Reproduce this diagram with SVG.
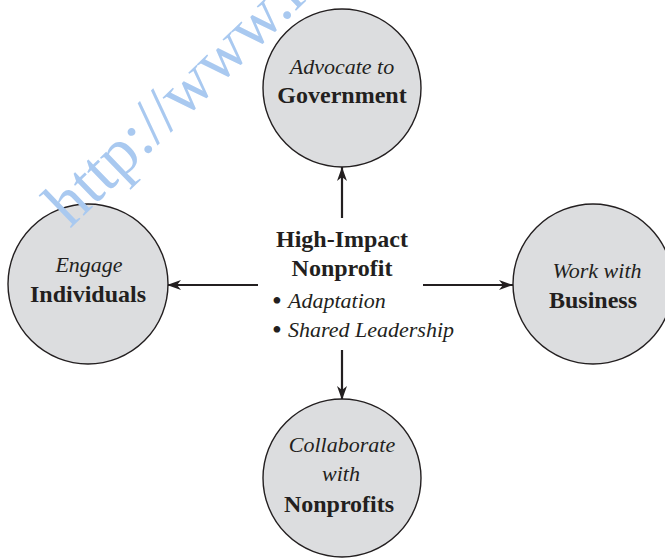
<svg xmlns="http://www.w3.org/2000/svg" width="665" height="558" viewBox="0 0 665 558">
<style>
.node circle{fill:#dcdddf;stroke:#231f20;stroke-width:1.4}
.it{font-family:"Liberation Serif","DejaVu Serif",serif;font-style:italic;font-size:22px;fill:#231f20;text-anchor:middle}
.bd{font-family:"Liberation Serif","DejaVu Serif",serif;font-weight:bold;font-size:24px;fill:#231f20;text-anchor:middle}
.bl{font-family:"Liberation Serif","DejaVu Serif",serif;font-size:28px;fill:#231f20;text-anchor:middle}
.li{font-family:"Liberation Serif","DejaVu Serif",serif;font-style:italic;font-size:22px;fill:#231f20}
.conn line{stroke:#231f20;stroke-width:2.2}
.wm{font-family:"Liberation Serif","DejaVu Serif",serif;font-size:66px;fill:#a9c9f0}
</style>
<defs>
<marker id="ah" markerUnits="userSpaceOnUse" viewBox="0 0 14 10" refX="14" refY="5" markerWidth="14" markerHeight="10" orient="auto">
<path d="M0,0 L14,5 L0,10 L4,5 z" fill="#231f20"/>
</marker>
</defs>
<rect width="665" height="558" fill="#ffffff"/>
<g id="conns" class="conn">
<line x1="342" y1="218" x2="342" y2="167" marker-end="url(#ah)"/>
<line x1="342" y1="350" x2="342" y2="400" marker-end="url(#ah)"/>
<line x1="258" y1="285" x2="167" y2="285" marker-end="url(#ah)"/>
<line x1="423" y1="285" x2="513" y2="285" marker-end="url(#ah)"/>
</g>
<g id="center">
<text class="bd" x="342" y="247">High-Impact</text>
<text class="bd" x="342" y="276">Nonprofit</text>
<text class="bl" x="277" y="310">•</text>
<text class="li" x="288" y="308">Adaptation</text>
<text class="bl" x="277" y="339">•</text>
<text class="li" x="288" y="337">Shared Leadership</text>
</g>
<g id="top" class="node">
<circle cx="342" cy="88" r="79"/>
<text class="it" x="342" y="74">Advocate to</text>
<text class="bd" x="342" y="103">Government</text>
</g>
<g id="left" class="node">
<circle cx="88" cy="284" r="80"/>
<text class="it" x="89" y="272">Engage</text>
<text class="bd" x="88" y="302">Individuals</text>
</g>
<g id="right" class="node">
<circle cx="593" cy="284" r="80"/>
<text class="it" x="597" y="278">Work with</text>
<text class="bd" x="593" y="308">Business</text>
</g>
<g id="bottom" class="node">
<circle cx="342" cy="478" r="79"/>
<text class="it" x="342" y="452">Collaborate</text>
<text class="it" x="341" y="481">with</text>
<text class="bd" x="339" y="512">Nonprofits</text>
</g>
<text class="wm" transform="translate(70,229) rotate(-44)">http://www.r</text>
</svg>
